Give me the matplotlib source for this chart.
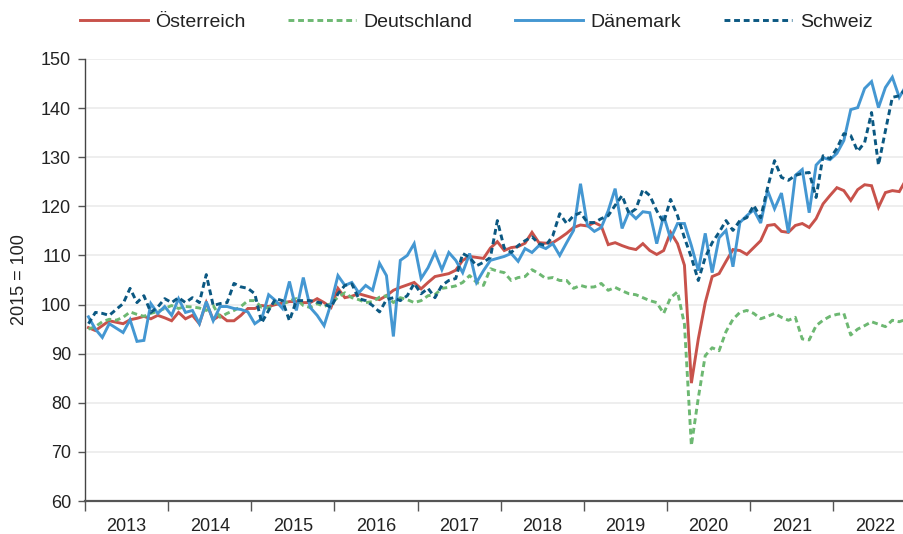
import matplotlib
matplotlib.use("Agg")
import matplotlib.pyplot as plt
import numpy as np

years = ["2013", "2014", "2015", "2016", "2017", "2018", "2019", "2020", "2021", "2022"]
series_names = ["Österreich", "Deutschland", "Dänemark", "Schweiz"]

oesterreich = [
    95.3, 94.7, 95.7, 96.7, 96.4, 96.1, 96.9, 97.2, 97.6, 97.1, 97.8, 97.3,
    96.7, 98.4, 97.1, 97.8, 96.1, 100.4, 96.9, 97.8, 96.7, 96.7, 97.8, 99.2,
    99.2, 99.8, 99.6, 100.0, 100.3, 100.6, 100.6, 100.4, 100.4, 101.2, 100.4, 99.4,
    103.3, 101.4, 101.7, 102.2, 101.8, 101.4, 101.0, 101.8, 102.9, 103.5, 104.0, 104.5,
    103.2, 104.5, 105.7, 106.0, 106.3, 107.0, 109.0, 109.8, 109.6, 109.4, 111.5, 112.8,
    111.0, 111.6, 111.8, 112.5, 114.7, 112.6, 112.5, 112.6, 113.5, 114.5, 115.7, 116.2,
    116.0, 116.7, 116.0, 112.2, 112.6, 112.0, 111.5, 111.2, 112.4, 111.0, 110.2, 111.0,
    114.7, 112.4, 108.0, 84.0, 93.0, 100.4, 105.7, 106.3, 108.8, 111.2, 111.0, 110.2,
    111.6, 113.0, 116.1, 116.3, 114.9, 114.7, 116.1, 116.5, 115.7, 117.5, 120.5, 122.2,
    123.8, 123.2, 121.2, 123.4, 124.4, 124.2, 119.8, 122.8, 123.2, 123.0, 125.5,
]

deutschland = [
    95.0, 95.5, 96.5, 97.0, 96.8, 97.4, 98.5, 98.0, 97.6, 98.2, 98.6, 99.2,
    99.8, 99.2, 99.6, 99.5, 99.3, 98.8, 99.8, 97.4, 98.2, 98.8, 99.6, 100.8,
    100.8, 99.4, 99.3, 100.4, 100.0, 100.8, 101.2, 99.8, 99.4, 100.2, 99.6, 100.2,
    101.5, 102.4, 101.4, 101.0, 100.4, 100.6, 101.5, 101.8, 100.4, 101.4, 101.0, 100.4,
    100.8, 101.8, 102.0, 103.3, 103.5, 103.8, 104.5, 105.9, 104.5, 103.9, 107.3, 106.8,
    106.5, 104.9, 105.5, 105.7, 107.1, 106.3, 105.3, 105.5, 104.9, 104.9, 103.3, 103.9,
    103.5, 103.6, 104.3, 102.9, 103.5, 102.8, 102.2, 102.0, 101.4, 100.8, 100.4, 98.2,
    101.4, 102.6, 96.0, 71.3, 81.0, 89.6, 91.2, 90.6, 94.5, 97.0, 98.4, 98.8,
    98.2, 97.1, 97.6, 98.2, 97.4, 96.8, 97.4, 93.0, 92.8, 95.7, 96.8, 97.6,
    98.0, 98.2, 93.8, 95.0, 95.7, 96.5, 96.0, 95.5, 96.8, 96.5, 97.0,
]

daenemark = [
    97.5, 95.0, 93.3, 96.1, 95.2, 94.3, 96.9, 92.5, 92.7, 100.2, 98.2, 99.6,
    97.8, 101.2, 98.4, 98.8, 96.1, 100.6, 96.7, 99.6, 99.6, 99.2, 99.0, 98.5,
    96.1, 97.1, 102.0, 100.8, 99.2, 104.7, 98.8, 105.5, 99.4, 97.8, 95.7, 100.2,
    105.9, 103.9, 104.5, 102.4, 103.9, 102.9, 108.4, 105.9, 93.5, 109.0, 110.0, 112.4,
    105.3, 107.5, 110.6, 107.1, 110.6, 109.0, 106.5, 110.4, 104.5, 106.9, 109.0, 109.4,
    109.8, 110.4, 108.8, 111.4, 110.6, 112.0, 111.4, 112.4, 110.0, 112.6, 115.1, 124.6,
    116.1, 114.9, 115.7, 119.1, 123.6, 115.5, 118.9, 117.5, 118.9, 118.7, 112.4, 118.1,
    113.4, 116.5, 116.5, 112.0, 106.9, 114.5, 106.5, 113.6, 115.1, 107.7, 116.7, 118.1,
    119.3, 116.6, 123.2, 119.5, 122.7, 114.6, 126.3, 127.5, 118.7, 128.4, 129.9, 129.5,
    130.8, 133.4, 139.7, 140.1, 144.0, 145.4, 140.1, 144.2, 146.3, 142.2, 144.6,
]

schweiz = [
    96.1, 98.4, 98.2, 97.8, 99.0, 100.2, 103.3, 100.4, 101.8, 98.4, 99.5, 101.2,
    100.4, 101.4, 100.4, 101.4, 100.4, 106.1, 99.8, 100.2, 100.4, 104.3, 103.6, 103.3,
    102.2, 96.3, 98.8, 101.2, 100.8, 96.7, 100.8, 100.8, 100.8, 100.5, 100.2, 99.4,
    102.2, 103.9, 104.2, 101.2, 100.8, 99.8, 98.5, 101.0, 101.4, 100.8, 101.8, 104.3,
    102.2, 103.3, 101.4, 103.9, 104.9, 105.3, 110.4, 109.6, 107.9, 108.6, 109.6, 117.1,
    111.5, 110.6, 112.0, 113.0, 113.8, 112.4, 112.0, 114.0, 118.5, 116.5, 118.1, 118.7,
    116.7, 116.7, 117.5, 118.1, 120.2, 122.2, 118.5, 119.5, 123.4, 122.2, 119.1, 116.7,
    121.4, 118.1, 113.6, 109.6, 104.9, 109.6, 112.6, 114.7, 117.1, 115.1, 117.1, 117.7,
    120.2, 117.7, 123.8, 129.3, 125.9, 125.3, 126.3, 126.7, 126.9, 121.8, 130.3, 129.7,
    131.8, 134.8, 134.4, 131.2, 133.0, 139.1, 128.4, 135.4, 142.2, 142.5, 144.0,
]

plt.rcParams["font.family"] = ["Liberation Sans", "DejaVu Sans"]

W, H = 904, 534
fig = plt.figure(figsize=(W / 100, H / 100), dpi=100)
left_px, right_px, top_px, bot_px = 85, 916.6, 59, 501
ax = fig.add_axes([left_px / W, (H - bot_px) / H, (right_px - left_px) / W, (bot_px - top_px) / H])

n = len(oesterreich)
x = np.arange(n) + 0.5

c_at = "#C8524B"
c_de = "#6DB872"
c_dk = "#4497D2"
c_ch = "#0B5882"

ax.plot(x, oesterreich, color=c_at, lw=2.1, label=series_names[0], solid_joinstyle="miter")
ax.plot(x, deutschland, color=c_de, lw=2.1, ls=(0, (2.0, 1.3)), label=series_names[1])
ax.plot(x, daenemark, color=c_dk, lw=2.1, label=series_names[2], solid_joinstyle="miter")
ax.plot(x, schweiz, color=c_ch, lw=2.1, ls=(0, (2.0, 1.3)), label=series_names[3])

ax.set_ylim(60, 150)
ax.set_xlim(0, 120)
ax.set_yticks(np.arange(60, 151, 10))
ax.yaxis.grid(True, color="#EDEDED", lw=1.3)
ax.set_axisbelow(True)

ax.set_xticks(np.arange(0, 121, 12))
ax.set_xticklabels([])
ax.set_xticks(np.arange(6, 120, 12), minor=True)
ax.set_xticklabels(years, minor=True)
ax.tick_params(axis="x", which="major", length=7, width=1, color="#555555", direction="out")
ax.tick_params(axis="x", which="minor", length=0, pad=12, labelsize=13, labelcolor="#222222")
ax.tick_params(axis="y", length=5, width=1, color="#555555", labelsize=13, labelcolor="#222222", pad=5)

for s in ["top", "right"]:
    ax.spines[s].set_visible(False)
ax.spines["left"].set_color("#444444")
ax.spines["left"].set_linewidth(1.0)
ax.spines["bottom"].set_color("#555555")
ax.spines["bottom"].set_linewidth(1.6)

fig.text(20 / W, (H - 280) / H, "2015 = 100", rotation=90, ha="center", va="center",
         fontsize=13, color="#222222")

fig.legend(loc="center", bbox_to_anchor=(476 / W, 1 - 22 / H), ncol=4, frameon=False,
           fontsize=14, handlelength=3.5, handletextpad=0.38, columnspacing=2.2,
           labelcolor="#222222")

fig.savefig("out.png", dpi=100)
